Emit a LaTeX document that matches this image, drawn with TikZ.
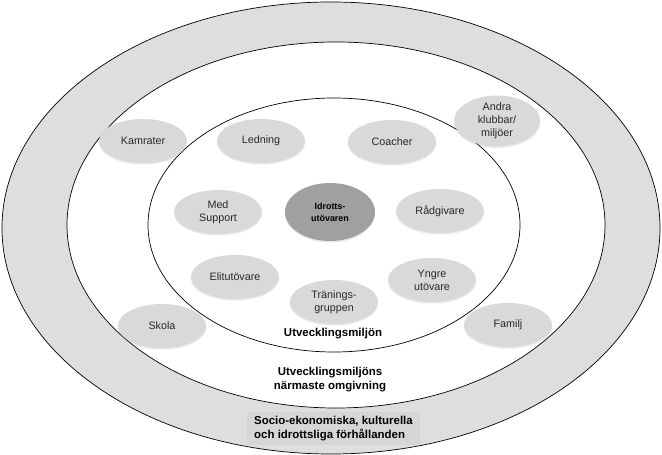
\documentclass[tikz,border=0pt]{standalone}
\usepackage{fontspec}
\setmainfont{Liberation Sans}
\usepackage{xcolor}
\definecolor{bandgray}{RGB}{222,222,222}
\definecolor{boxgray}{RGB}{214,214,214}
\definecolor{actorgray}{RGB}{217,217,217}
\definecolor{coregray}{RGB}{160,160,160}
\definecolor{txtgray}{RGB}{40,40,40}
\usetikzlibrary{positioning,shapes.geometric,shadows}

\begin{document}
\begin{tikzpicture}[
  x=1bp, y=-1bp,
  ring/.style={draw=black, line width=0.7bp},
  actor/.style={ellipse, fill=actorgray, draw=none, inner sep=0pt,
                minimum width=88bp, minimum height=44bp,
                font=\fontsize{10.8}{13}\selectfont, text=txtgray, align=center,
                drop shadow={opacity=0.18, shadow xshift=0bp, shadow yshift=-1.5bp}},
  core/.style={actor, fill=coregray, minimum width=90bp, minimum height=58bp,
               font=\fontsize{9}{12}\selectfont\bfseries, text=black},
  zone/.style={font=\fontsize{11.5}{14}\selectfont\bfseries, align=center}
]
\useasboundingbox (0,0) rectangle (662,455);

% Rings
\fill[bandgray, ring] (331,228) ellipse [x radius=329bp, y radius=226bp];
\fill[white, ring] (336,225) ellipse [x radius=269bp, y radius=183bp];
\draw[ring] (334,225) ellipse [x radius=186bp, y radius=127bp];

% Centre node
\node[core] (athlete) at (330,212) {Idrotts-\\utövaren};

% Inner ring
\node[actor] (ledning)  at (261,141) {Ledning};
\node[actor] (coacher)  at (392,142) {Coacher};
\node[actor] (support)  at (218,212) {Med\\Support};
\node[actor] (radgiv)   at (440,211) {Rådgivare};
\node[actor] (elit)     at (235,277) {Elitutövare};
\node[actor] (yngre)    at (432,280) {Yngre\\utövare};
\node[actor] (grupp)    at (334,302) {Tränings-\\gruppen};

% Outer ring
\node[actor] (kamrater) at (143,141) {Kamrater};
\node[actor, minimum width=86bp, minimum height=46bp] (andra) at (497,121) {Andra\\klubbar/\\miljöer};
\node[actor] (skola)    at (162,326) {Skola};
\node[actor] (familj)   at (508,325) {Familj};

% Zone labels
\node[zone] (inre)  at (333,334) {Utvecklingsmiljön};
\node[zone] (narm)  at (330,380) {Utvecklingsmiljöns\\närmaste omgivning};
\node[zone, fill=boxgray, align=left, inner sep=0pt,
      minimum width=173bp, minimum height=33bp] (socio) at (333.5,428.5)
  {Socio-ekonomiska, kulturella\\och idrottsliga förhållanden};
\end{tikzpicture}
\end{document}
